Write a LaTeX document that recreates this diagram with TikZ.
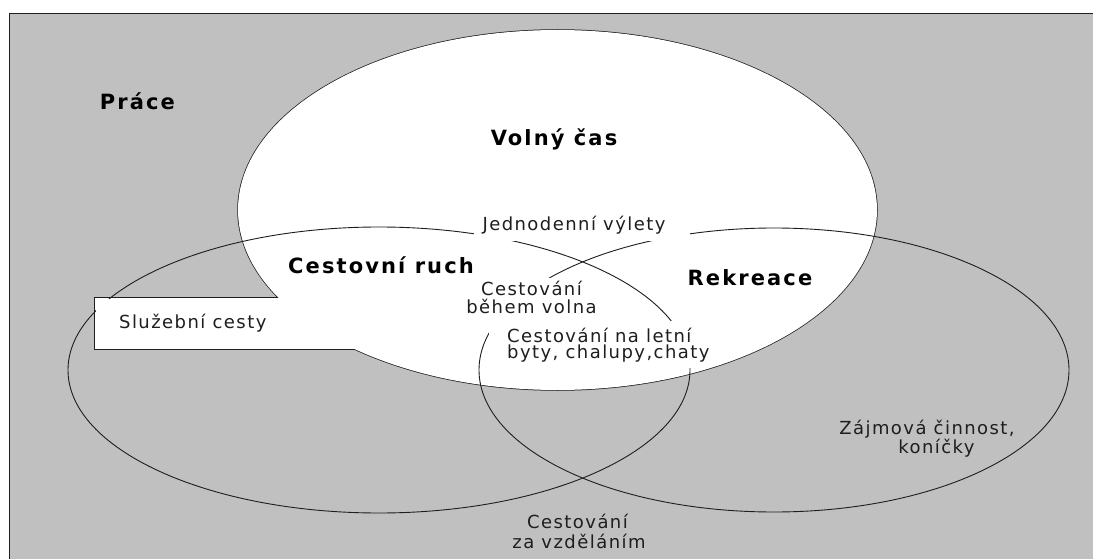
\documentclass[tikz,border=0pt]{standalone}
\usepackage{fontspec}
\setmainfont{DejaVu Sans}
\newfontfamily\regf[LetterSpace=8]{DejaVu Sans}
\newfontfamily\boldf[LetterSpace=10]{DejaVu Sans}
\definecolor{bggray}{RGB}{192,192,192}
\definecolor{ink}{RGB}{30,30,30}
\tikzset{
  lbl/.style={inner sep=0pt, anchor=base, text=ink, font=\regf\fontsize{18}{18}\selectfont},
  head/.style={inner sep=0pt, anchor=base, text=black, font=\boldf\bfseries\fontsize{21}{22}\selectfont},
  ring/.style={draw=ink, line width=0.9pt},
  rim/.style={draw=ink, line width=1.5pt},
}
\begin{document}
\begin{tikzpicture}[x=1pt,y=-1pt]
\useasboundingbox (0,0) rectangle (1093,559);
% background (Práce)
\fill[bggray] (9,13) rectangle (1110,580);
\draw[ring] (9,580) -- (9,13) -- (1110,13);
% white region: Volný čas + Služební cesty box (outline, then fill)
\draw[rim] (557.5,210) ellipse [x radius=319.5pt, y radius=180pt];
\draw[rim] (95,298) rectangle (420,349);
\fill[white] (557.5,210) ellipse [x radius=319.5pt, y radius=180pt];
\fill[white] (95,298) rectangle (420,349);
% Cestovní ruch and Rekreace ellipses
\draw[ring] (379,370) ellipse [x radius=311pt, y radius=143pt];
\draw[ring] (774,370) ellipse [x radius=295pt, y radius=142pt];
% box interior hides the ellipse line
\fill[white] (95.8,298.8) rectangle (420,348.2);
% label backgrounds
\fill[white] (474,211) rectangle (690,240.5);
\fill[white] (462,278) rectangle (601,321);
\fill[white] (489,321) rectangle (700,368);
% headings
\node[head] (prace) at (137.5,110) {Práce};
\node[head] (volny) at (554,146) {Volný čas};
\node[head] (cr) at (381,273) {Cestovní ruch};
\node[head] (rek) at (750,285) {Rekreace};
% labels
\node[lbl] (jedn) at (574,230) {Jednodenní výlety};
\node[lbl, anchor=base west] (sluz) at (119,328) {Služební cesty};
\node[lbl] (bv1) at (531.5,295) {Cestování};
\node[lbl] (bv2) at (531.5,313) {během volna};
\node[lbl, anchor=base west] (let1) at (507,342) {Cestování na letní};
\node[lbl, anchor=base west] (let2) at (507,358) {byty, chalupy,chaty};
\node[lbl] (zaj1) at (927,434) {Zájmová činnost,};
\node[lbl] (zaj2) at (936.5,453) {koníčky};
\node[lbl] (vz1) at (577.5,528) {Cestování};
\node[lbl] (vz2) at (579,548) {za vzděláním};
\end{tikzpicture}
\end{document}
